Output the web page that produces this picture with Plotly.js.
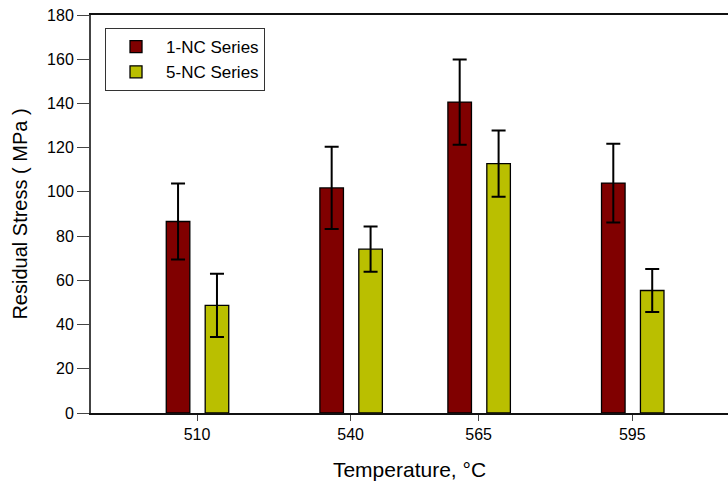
<!DOCTYPE html>
<html>
<head>
<meta charset="utf-8">
<script src="https://cdn.plot.ly/plotly-3.0.1.min.js"></script>
<style>html,body{margin:0;padding:0;background:#fff;}#chart{width:728px;height:485px;}</style>
</head>
<body>
<div id="chart"></div>
<script>
// Data
const temperatures = [510, 540, 565, 595];
const tickLabels = ["510", "540", "565", "595"];
const series1Name = "1-NC Series";
const series1Values = [86.6, 101.8, 140.6, 104.0];
const series1Errors = [17.2, 18.6, 19.3, 17.8];
const series2Name = "5-NC Series";
const series2Values = [48.7, 74.1, 112.8, 55.4];
const series2Errors = [14.3, 10.2, 15.0, 9.7];

const font = "Liberation Sans, Arial, sans-serif";

const traces = [
  {
    type: "bar", name: series1Name, x: temperatures, y: series1Values,
    width: 4.6, offset: -6.0,
    marker: {color: "#800000", line: {color: "#000", width: 1.3}},
    error_y: {type: "data", array: series1Errors, visible: true, color: "#000", thickness: 2, width: 7}
  },
  {
    type: "bar", name: series2Name, x: temperatures, y: series2Values,
    width: 4.6, offset: 1.6,
    marker: {color: "#BABF00", line: {color: "#000", width: 1.3}},
    error_y: {type: "data", array: series2Errors, visible: true, color: "#000", thickness: 2, width: 7}
  }
];

const layout = {
  width: 728, height: 485,
  margin: {l: 91, r: 0, t: 15, b: 72},
  paper_bgcolor: "#fff", plot_bgcolor: "#fff",
  barmode: "overlay",
  showlegend: true,
  font: {family: font, color: "#000", size: 16},
  legend: {
    x: 0.022, y: 0.967, xanchor: "left", yanchor: "top",
    bgcolor: "#fff", bordercolor: "#333", borderwidth: 1,
    font: {family: font, size: 17, color: "#000"},
    itemwidth: 50,
    tracegroupgap: 2
  },
  xaxis: {
    range: [489.3, 613.7],
    tickmode: "array", tickvals: temperatures, ticktext: tickLabels,
    ticks: "outside", ticklen: 6, tickcolor: "#444", tickwidth: 1,
    showline: true, linecolor: "#111", linewidth: 2, mirror: true,
    showgrid: false, zeroline: false,
    tickfont: {family: font, size: 16, color: "#000"},
    title: {text: "Temperature, °C", font: {family: font, size: 21, color: "#000"}, standoff: 20}
  },
  yaxis: {
    range: [0, 180], dtick: 20,
    ticks: "outside", ticklen: 12, tickcolor: "#444", tickwidth: 1,
    showline: true, linecolor: "#444", linewidth: 2,
    showgrid: false, zeroline: false,
    tickfont: {family: font, size: 16, color: "#000"},
    title: {text: "Residual Stress ( MPa )", font: {family: font, size: 20, color: "#000"}, standoff: 14}
  }
};

Plotly.newPlot("chart", traces, layout, {displayModeBar: false, staticPlot: true});
</script>
</body>
</html>
